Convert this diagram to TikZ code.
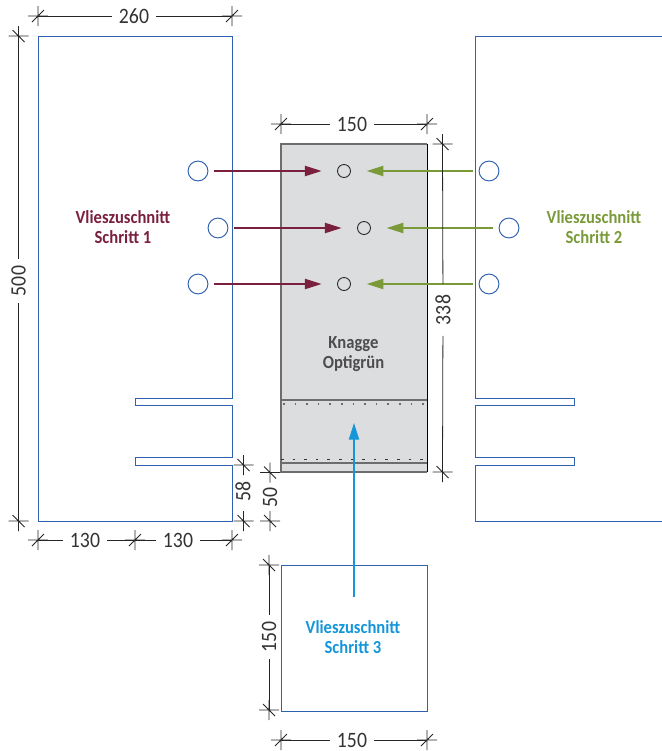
\documentclass[tikz,border=0pt]{standalone}
\usepackage{fontspec}
\setmainfont{Carlito}[FakeStretch=0.9]
\usetikzlibrary{arrows.meta}
\definecolor{vliesblau}{HTML}{2F62AE}
\definecolor{schrittrot}{HTML}{7A1F3D}
\definecolor{schrittgruen}{HTML}{7A9A3A}
\definecolor{schrittblau}{HTML}{1496D8}
\definecolor{knaggegrau}{HTML}{DCDDDF}
\definecolor{randgrau}{HTML}{6D6D6D}
\definecolor{textgrau}{HTML}{4D4D4F}
\tikzset{
	vlies/.style={draw=vliesblau, line width=0.55pt},
	loch/.style={circle, draw=vliesblau, line width=0.55pt, minimum size=11.3pt, inner sep=0pt},
	bohrung/.style={circle, draw=black!85, line width=0.5pt, minimum size=7.4pt, inner sep=0pt},
	pfeil/.style={line width=0.9pt, -{Triangle[length=9.5pt, width=5.8pt]}},
	mass/.style={line width=0.45pt, draw=black!85},
	masstext/.style={font=\fontsize{12.5}{14}\selectfont, text=black!80, inner ysep=0pt, inner xsep=4pt},
	schrifttext/.style={font=\bfseries\fontsize{10.5}{11.3}\selectfont, align=center}
}
\begin{document}
\begin{tikzpicture}[x=0.02cm, y=-0.02cm]
	\useasboundingbox (0,0) rectangle (662,751);

	% Vlieszuschnitte links und rechts
	\draw[vlies] (232,36) -- (38,36) -- (38,521) -- (232,521) -- (232,465) -- (135,465)
		-- (135,457.5) -- (232,457.5) -- (232,405.5) -- (135,405.5) -- (135,398)
		-- (232,398) -- cycle;
	\draw[vlies] (662,36) -- (475,36) -- (475,398) -- (574,398) -- (574,405.5)
		-- (475,405.5) -- (475,457.5) -- (574,457.5) -- (574,465) -- (475,465)
		-- (475,521) -- (662,521);
	\draw[vlies] (281,565) rectangle (427,711);

	% Knagge
	\fill[knaggegrau] (281,144) rectangle (427,472);
	\draw[randgrau, line width=0.7pt] (427,144) -- (281,144) -- (281,472) -- (427,472);
	\draw[black, line width=0.5pt] (427,144) -- (427,472);
	\draw[randgrau, line width=0.9pt] (281,400) -- (427,400);
	\draw[randgrau, line width=0.7pt] (281,463) -- (427,463);
	\draw[randgrau, line width=0.7pt, dash pattern=on 0.9pt off 5.7pt] (283,404) -- (427,404);
	\draw[black!80, line width=0.5pt, dash pattern=on 1.5pt off 5.1pt] (281,459.5) -- (427,459.5);

	% Bohrungen
	\foreach \name/\x/\y in {a/198/171, b/218/228, c/198/284, d/489/171, e/509/228, f/489/284}
		\node[loch] (loch\name) at (\x,\y) {};
	\foreach \name/\x/\y in {a/344/171, b/364/228, c/344/284}
		\node[bohrung] (bohrung\name) at (\x,\y) {};

	% Pfeile
	\foreach \name in {a,b,c}
		\draw[pfeil, schrittrot, shorten <=3.2pt, shorten >=8.8pt] (loch\name) -- (bohrung\name);
	\draw[pfeil, schrittgruen, shorten <=3pt, shorten >=9pt] (lochd) -- (bohrunga);
	\draw[pfeil, schrittgruen, shorten <=3pt, shorten >=9pt] (loche) -- (bohrungb);
	\draw[pfeil, schrittgruen, shorten <=3pt, shorten >=9pt] (lochf) -- (bohrungc);
	\coordinate (pfeilstart) at (354,597);
	\coordinate (pfeilziel) at (354,423);
	\draw[pfeil, schrittblau] (pfeilstart) -- (pfeilziel);

	% Beschriftungen
	\node[schrifttext, text=schrittrot] (schritta) at (123,227) {Vlieszuschnitt\\Schritt 1};
	\node[schrifttext, text=schrittgruen] (schrittb) at (594,227) {Vlieszuschnitt\\Schritt 2};
	\node[schrifttext, text=schrittblau] (schrittc) at (353,637) {Vlieszuschnitt\\Schritt 3};
	\node[schrifttext, text=textgrau] (knagge) at (353.5,354) {Knagge\\Optigrün};

	% Masskreuze waagerecht
	\foreach \name/\x/\y in {oa/38/16, ob/232/16, ka/281/124, kb/427/124, ua/38/540, ub/135/540, uc/232/540, sa/281/740, sb/427/740} {
		\coordinate (\name) at (\x,\y);
		\draw[mass] (\x-10,\y) -- (\x+10,\y) (\x,\y-10) -- (\x,\y+10) (\x-6,\y+6) -- (\x+6,\y-6);
	}
	% Masskreuze senkrecht
	\foreach \name/\x/\y in {la/18.5/36, lb/18.5/521, ha/442.5/144, hb/442.5/472, ta/243.5/465, tb/243.5/521, va/270/472.5, vb/270/521, qa/269/565, qb/269/710} {
		\coordinate (\name) at (\x,\y);
		\draw[mass] (\x-10,\y) -- (\x+10,\y) (\x,\y-10) -- (\x,\y+10) (\x-6,\y-6) -- (\x+6,\y+6);
	}

	% Masszahlen
	\node[masstext] (m260) at (134,16) {260};
	\node[masstext] (m150k) at (352,124) {150};
	\node[masstext] (m130a) at (85,540) {130};
	\node[masstext] (m130b) at (178,540) {130};
	\node[masstext] (m150s) at (352,740) {150};
	\node[masstext, rotate=90] (m500) at (18.5,281) {500};
	\node[masstext, rotate=90, inner xsep=6pt] (m338) at (443,310) {338};
	\node[masstext, rotate=90] (m58) at (243,491) {58};
	\node[masstext, rotate=90] (m50) at (270,497) {50};
	\node[masstext, rotate=90] (m150q) at (269,637) {150};

	% Masslinien
	\draw[mass] (oa) -- (m260);
	\draw[mass] (m260) -- (ob);
	\draw[mass] (ka) -- (m150k);
	\draw[mass] (m150k) -- (kb);
	\draw[mass] (ua) -- (m130a);
	\draw[mass] (m130a) -- (ub);
	\draw[mass] (ub) -- (m130b);
	\draw[mass] (m130b) -- (uc);
	\draw[mass] (sa) -- (m150s);
	\draw[mass] (m150s) -- (sb);
	\draw[mass] (la) -- (m500);
	\draw[mass] (m500) -- (lb);
	\draw[mass] (ha) -- (m338);
	\draw[mass] (m338) -- (hb);
	\draw[mass] (qa) -- (m150q);
	\draw[mass] (m150q) -- (qb);
\end{tikzpicture}
\end{document}
